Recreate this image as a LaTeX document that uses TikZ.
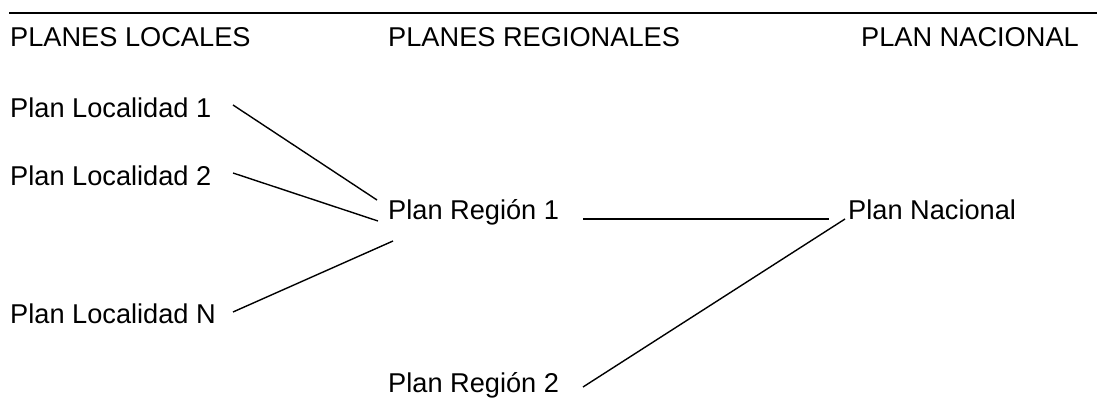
\documentclass[tikz,border=0pt]{standalone}
\usepackage{fontspec}
\setmainfont{Liberation Sans}
\tikzset{
  lbl/.style={anchor=base west, inner sep=0pt, font=\fontsize{27.2}{30}\selectfont},
  conn/.style={line width=1.4pt},
  rule/.style={line width=2pt}
}
\begin{document}
\begin{tikzpicture}[x=1pt,y=-1pt]
\useasboundingbox (0,0) rectangle (1097,412);
\coordinate (ruleL) at (9,13);
\coordinate (ruleR) at (1097,13);
\draw[rule] (ruleL) -- (ruleR);
\node[lbl] (h1) at (10,46.7) {PLANES LOCALES};
\node[lbl] (h2) at (388,46.7) {PLANES REGIONALES};
\node[lbl, anchor=base east] (h3) at (1079,46.7) {PLAN NACIONAL};
\node[lbl] (l1) at (10,117) {Plan Localidad 1};
\node[lbl] (l2) at (10,185) {Plan Localidad 2};
\node[lbl] (lN) at (10,323) {Plan Localidad N};
\node[lbl] (r1) at (388,219.5) {Plan Región 1};
\node[lbl] (r2) at (388,392.7) {Plan Región 2};
\node[lbl] (n) at (848,219.3) {Plan Nacional};
\draw[conn] ([shift={(223,-12)}]l1.base west) -- ([shift={(-11,-19.5)}]r1.base west);
\draw[conn] ([shift={(223,-12)}]l2.base west) -- ([shift={(-10,1.5)}]r1.base west);
\draw[conn] ([shift={(223,-11)}]lN.base west) -- ([shift={(5,21.5)}]r1.base west);
\draw[conn] ([shift={(195,-0.5)}]r1.base west) -- ([shift={(-19,-0.3)}]n.base west);
\draw[conn] ([shift={(195,-5.7)}]r2.base west) -- ([shift={(-3,-0.3)}]n.base west);
\end{tikzpicture}
\end{document}
